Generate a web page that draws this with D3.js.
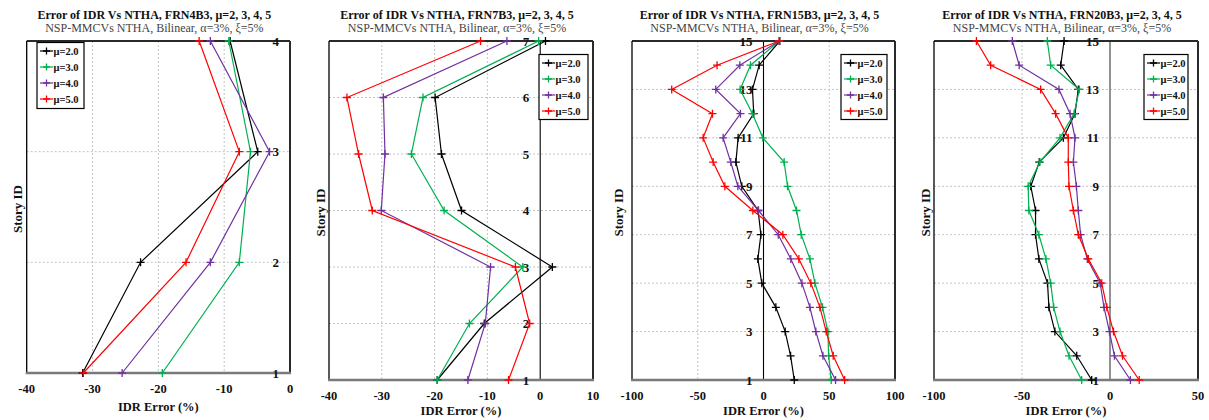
<!DOCTYPE html>
<html><head><meta charset="utf-8">
<script src="https://cdn.jsdelivr.net/npm/d3@7"></script>
<style>body{margin:0;background:#fff}svg{display:block}</style>
</head><body><svg id="c" width="1209" height="420" font-family="'Liberation Serif', 'Times New Roman', 'DejaVu Serif', serif"></svg>
<script>
// ---------- DATA ----------
const seriesLabels = ["μ=2.0","μ=3.0","μ=4.0","μ=5.0"];
const seriesColors = ["#000000","#00b050","#7030a0","#ff0000"];

const titles = ["Error of IDR Vs NTHA, FRN4B3, μ=2, 3, 4, 5","Error of IDR Vs NTHA, FRN7B3, μ=2, 3, 4, 5","Error of IDR Vs NTHA, FRN15B3, μ=2, 3, 4, 5","Error of IDR Vs NTHA, FRN20B3, μ=2, 3, 4, 5"];
const subtitle = "NSP-MMCVs NTHA, Bilinear, α=3%, ξ=5%";

// FRN4B3 (stories 1..4)
const frn4Stories = [1,2,3,4];
const frn4Mu2 = [-31.5,-22.7,-4.9,-9.1];
const frn4Mu3 = [-19.4,-7.7,-6.0,-9.3];
const frn4Mu4 = [-25.5,-12.1,-3.1,-12.1];
const frn4Mu5 = [-31.4,-15.8,-7.7,-13.8];
const frn4XTicks = [-40,-30,-20,-10,0];
const frn4YTicks = [1,2,3,4];

// FRN7B3 (stories 1..7)
const frn7Stories = [1,2,3,4,5,6,7];
const frn7Mu2 = [-19.5,-10.6,2.3,-14.9,-18.7,-19.9,1.0];
const frn7Mu3 = [-19.5,-13.4,-3.3,-18.2,-24.4,-22.2,-0.3];
const frn7Mu4 = [-13.7,-10.4,-9.4,-30.1,-29.4,-29.7,-6.3];
const frn7Mu5 = [-6.0,-2.0,-4.7,-31.8,-34.4,-36.6,-11.3];
const frn7XTicks = [-40,-30,-20,-10,0,10];
const frn7YTicks = [1,2,3,4,5,6,7];

// FRN15B3 (stories 1..15)
const frn15Stories = [1,2,3,4,5,6,7,8,9,10,11,12,13,14,15];
const frn15Mu2 = [23.4,20.6,16.5,9.4,-1.3,-4.3,-2.0,-4.1,-16.5,-21.0,-19.3,-7.4,-8.4,-3.3,12.4];
const frn15Mu3 = [51.5,49.5,49.0,44.9,39.1,35.3,28.7,25.1,18.3,15.7,-0.5,-8.4,-17.8,-9.9,12.0];
const frn15Mu4 = [54.8,45.2,39.8,35.3,29.2,20.8,11.2,-3.8,-19.5,-24.9,-30.7,-17.5,-36.3,-18.0,12.0];
const frn15Mu5 = [61.7,53.0,47.7,42.9,36.0,26.9,14.7,-8.1,-29.4,-38.3,-45.9,-38.8,-69.8,-35.3,12.0];
const frn15XTicks = [-100,-50,0,50,100];
const frn15YTicks = [1,3,5,7,9,11,13,15];

// FRN20B3 (stories 1..15)
const frn20Stories = [1,2,3,4,5,6,7,8,9,10,11,12,13,14,15];
const frn20Mu2 = [-10.4,-18.9,-31.3,-34.7,-35.5,-40.4,-42.3,-42.3,-45.0,-40.2,-26.5,-19.9,-18.0,-28.0,-26.1];
const frn20Mu3 = [-16.1,-23.3,-28.4,-32.0,-33.7,-36.4,-40.4,-46.1,-46.5,-39.8,-28.4,-20.4,-17.4,-33.7,-35.6];
const frn20Mu4 = [11.6,2.5,-0.3,-3.4,-5.6,-12.9,-16.7,-18.0,-19.1,-20.8,-19.9,-22.7,-29.0,-51.6,-55.5];
const frn20Mu5 = [16.6,7.1,2.0,-1.8,-4.7,-12.3,-18.0,-20.8,-23.3,-23.7,-23.7,-30.9,-39.4,-67.8,-75.9];
const frn20XTicks = [-100,-50,0,50];
const frn20YTicks = [1,3,5,7,9,11,13,15];

// ---------- LAYOUT ----------
const panels = [
  {title:titles[0], stories:frn4Stories, series:[frn4Mu2,frn4Mu3,frn4Mu4,frn4Mu5], xTicks:frn4XTicks, yTicks:frn4YTicks,
   box:{x0:26.7,x1:290,y0:41,y1:373}, tickY:389, titleY:407, ylabX:17, legend:{x:37,y:42.5,w:47,h:66}},
  {title:titles[1], stories:frn7Stories, series:[frn7Mu2,frn7Mu3,frn7Mu4,frn7Mu5], xTicks:frn7XTicks, yTicks:frn7YTicks,
   box:{x0:329,x1:593,y0:41,y1:380}, tickY:395.5, titleY:410.5, ylabX:320, legend:{x:539,y:54.5,w:49,h:65}},
  {title:titles[2], stories:frn15Stories, series:[frn15Mu2,frn15Mu3,frn15Mu4,frn15Mu5], xTicks:frn15XTicks, yTicks:frn15YTicks,
   box:{x0:632,x1:895,y0:41,y1:380}, tickY:395.5, titleY:410.5, ylabX:618, legend:{x:841,y:54.5,w:46,h:65}, zeroColor:"#000"},
  {title:titles[3], stories:frn20Stories, series:[frn20Mu2,frn20Mu3,frn20Mu4,frn20Mu5], xTicks:frn20XTicks, yTicks:frn20YTicks,
   box:{x0:934,x1:1198,y0:41,y1:380}, tickY:395.5, titleY:410.5, ylabX:925, legend:{x:1144,y:54.5,w:44,h:65}, zeroColor:"#777"}
];

const svg = d3.select("#c");

function plus(g, x, y, color, s) {
  g.append("path").attr("d", `M${x-s},${y}H${x+s}M${x},${y-s}V${y+s}`)
    .attr("stroke", color).attr("stroke-width", 1.3).attr("fill","none");
}

panels.forEach(p => {
  const b = p.box;
  const g = svg.append("g");
  const xs = d3.scaleLinear().domain(d3.extent(p.xTicks)).range([b.x0, b.x1]);
  const ys = d3.scaleLinear().domain([1, d3.max(p.stories)]).range([b.y1, b.y0]);
  const cx = (b.x0 + b.x1) / 2 - 4;

  // titles
  g.append("text").attr("x", cx).attr("y", 19).attr("text-anchor","middle")
    .attr("font-size", 12).attr("font-weight","bold").attr("fill","#111").text(p.title);
  g.append("text").attr("x", cx).attr("y", 32).attr("text-anchor","middle")
    .attr("font-size", 12).attr("fill","#444").text(subtitle);

  // grid
  const inner = p.xTicks.filter(t => t !== 0 && xs(t) > b.x0 + 1 && xs(t) < b.x1 - 1);
  g.selectAll(null).data(inner).join("line")
    .attr("x1", d => xs(d)).attr("x2", d => xs(d)).attr("y1", b.y0).attr("y2", b.y1)
    .attr("stroke","#c4c4c4").attr("stroke-width",1).attr("stroke-dasharray","2,2");
  const innerY = p.yTicks.filter(t => ys(t) > b.y0 + 1 && ys(t) < b.y1 - 1);
  g.selectAll(null).data(innerY).join("line")
    .attr("x1", b.x0).attr("x2", b.x1).attr("y1", d => ys(d)).attr("y2", d => ys(d))
    .attr("stroke","#c4c4c4").attr("stroke-width",1).attr("stroke-dasharray","2,2");

  // zero line
  if (xs(0) < b.x1 - 1) {
    g.append("line").attr("x1", xs(0)).attr("x2", xs(0)).attr("y1", b.y0).attr("y2", b.y1)
      .attr("stroke", p.zeroColor || "#000").attr("stroke-width", p.zeroColor === "#777" ? 1.6 : 1.1);
  }

  // frame
  g.append("line").attr("x1", b.x0).attr("x2", b.x1).attr("y1", b.y0).attr("y2", b.y0).attr("stroke","#2a2a2a").attr("stroke-width",2);
  g.append("line").attr("x1", b.x1).attr("x2", b.x1).attr("y1", b.y0).attr("y2", b.y1).attr("stroke","#2a2a2a").attr("stroke-width",2);
  g.append("line").attr("x1", b.x0).attr("x2", b.x0).attr("y1", b.y0).attr("y2", b.y1).attr("stroke","#000").attr("stroke-width",1.3);
  g.append("line").attr("x1", b.x0 - 1).attr("x2", b.x1 + 1).attr("y1", b.y1).attr("y2", b.y1).attr("stroke","#7a7a7a").attr("stroke-width",2.5);

  // x tick labels
  g.selectAll(null).data(p.xTicks).join("text")
    .attr("x", d => xs(d)).attr("y", p.tickY).attr("dy","0.35em").attr("text-anchor","middle")
    .attr("font-size", 12.5).attr("font-weight","bold").attr("fill","#111").text(d => d);
  g.append("text").attr("x", (b.x0 + b.x1) / 2).attr("y", p.titleY).attr("dy","0.35em").attr("text-anchor","middle")
    .attr("font-size", 12.5).attr("font-weight","bold").attr("fill","#111").text("IDR Error (%)");

  // y tick labels (placed next to the zero line)
  const zx = Math.min(xs(0), b.x1);
  g.selectAll(null).data(p.yTicks).join("text")
    .attr("x", zx - 11).attr("y", d => ys(d)).attr("dy","0.35em").attr("text-anchor","end")
    .attr("font-size", 13).attr("font-weight","bold").attr("fill","#111").text(d => d);
  g.append("text").attr("transform", `translate(${p.ylabX},${(b.y0 + b.y1) / 2 + 2}) rotate(-90)`)
    .attr("dy","0.35em").attr("text-anchor","middle")
    .attr("font-size", 13).attr("font-weight","bold").attr("fill","#111").text("Story ID");

  // series
  const line = d3.line().x(d => xs(d[0])).y(d => ys(d[1]));
  p.series.forEach((vals, i) => {
    const pts = vals.map((v, k) => [v, p.stories[k]]);
    g.append("path").attr("d", line(pts)).attr("fill","none")
      .attr("stroke", seriesColors[i]).attr("stroke-width", 1.2);
    pts.forEach(pt => plus(g, xs(pt[0]), ys(pt[1]), seriesColors[i], 4));
  });

  // legend
  const L = p.legend;
  const lg = g.append("g");
  lg.append("rect").attr("x", L.x).attr("y", L.y).attr("width", L.w).attr("height", L.h)
    .attr("fill","#fff").attr("stroke","#000").attr("stroke-width",1.2);
  seriesLabels.forEach((lab, i) => {
    const yy = L.y + 8.5 + i * 16;
    lg.append("line").attr("x1", L.x + 3).attr("x2", L.x + 16).attr("y1", yy).attr("y2", yy)
      .attr("stroke", seriesColors[i]).attr("stroke-width", 1.2);
    plus(lg, L.x + 9.5, yy, seriesColors[i], 3.5);
    lg.append("text").attr("x", L.x + 16.5).attr("y", yy).attr("dy","0.35em")
      .attr("font-size", 10.5).attr("font-weight","bold").attr("fill","#111").text(lab);
  });
});
</script></body></html>
